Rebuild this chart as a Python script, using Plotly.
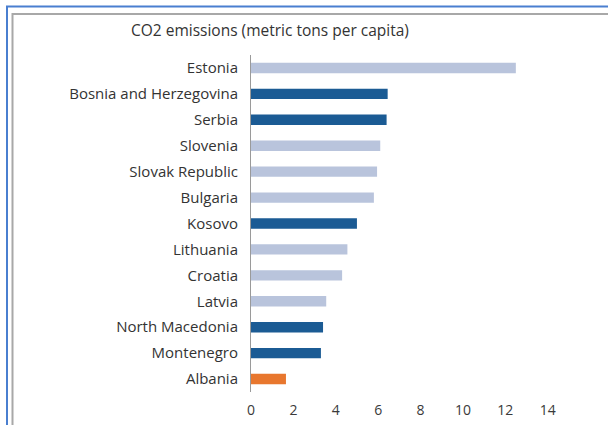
import plotly.graph_objects as go

# CO2 emissions per capita, metric tons
countries = ["Estonia", "Bosnia and Herzegovina", "Serbia", "Slovenia", "Slovak Republic",
             "Bulgaria", "Kosovo", "Lithuania", "Croatia", "Latvia", "North Macedonia",
             "Montenegro", "Albania"]
emissions = [12.5, 6.45, 6.4, 6.1, 5.95, 5.8, 5.0, 4.55, 4.3, 3.55, 3.4, 3.3, 1.65]
# group: "eu" = EU member, "wb" = Western Balkans, "al" = Albania
groups = ["eu", "wb", "wb", "eu", "eu", "eu", "wb", "eu", "eu", "eu", "wb", "wb", "al"]
tick_vals = [0, 2, 4, 6, 8, 10, 12, 14]

palette = {"eu": "#b9c4dc", "wb": "#1b5b94", "al": "#e8772e"}
colors = [palette[g] for g in groups]

W, H = 608, 425
L, R, T, B = 251, 18, 55, 33
pw, ph = W - L - R, H - T - B

fig = go.Figure(go.Bar(
    x=emissions, y=countries, orientation="h",
    marker=dict(color=colors, line=dict(width=0)),
    width=0.4,
))

def px(x):
    return (x - L) / pw

def py(y):
    return 1 - (y - T) / ph

fig.update_layout(
    width=W, height=H,
    margin=dict(l=L, r=R, t=T, b=B, autoexpand=False),
    paper_bgcolor="white", plot_bgcolor="white",
    showlegend=False,
    font=dict(family="Open Sans, sans-serif", size=14, color="#3a3a3a"),
    xaxis=dict(range=[0, 16], tickvals=tick_vals, showgrid=False, zeroline=False,
               showline=False, ticks="", ticklabelstandoff=8, automargin=False,
               tickfont=dict(size=14, color="#3a3a3a")),
    yaxis=dict(categoryorder="array", categoryarray=countries[::-1], showgrid=False,
               showline=True, linecolor="#9a9a9a", linewidth=1, ticks="", automargin=False,
               ticklabelstandoff=9, tickfont=dict(size=15, color="#333333")),
    annotations=[dict(text="CO2 emissions (metric tons per capita)", xref="paper", yref="paper",
                      x=px(129), y=py(30), xanchor="left", yanchor="middle", showarrow=False,
                      font=dict(size=15.5, color="#333333"))],
    shapes=[
        # outer blue frame
        dict(type="rect", xref="paper", yref="paper", x0=px(7), x1=px(612), y0=py(430), y1=py(6.5),
             line=dict(color="#4a7fd0", width=2), fillcolor="rgba(0,0,0,0)", layer="below"),
        # inner gray panel border
        dict(type="rect", xref="paper", yref="paper", x0=px(12.5), x1=px(612), y0=py(430), y1=py(14),
             line=dict(color="#a8a8a8", width=2), fillcolor="rgba(0,0,0,0)", layer="below"),
    ],
)

fig.write_html("out.html")
